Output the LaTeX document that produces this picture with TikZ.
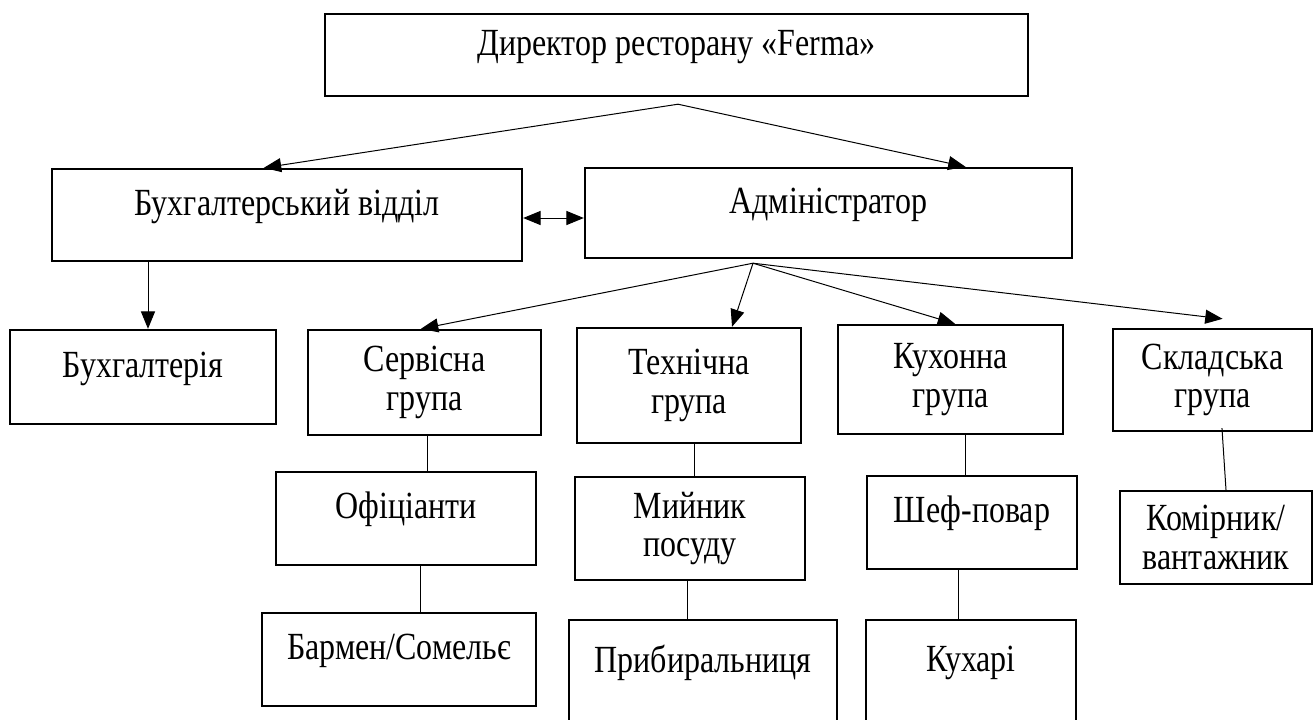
\documentclass[tikz,border=0pt]{standalone}
\usepackage{fontspec}
\setmainfont[FakeStretch=0.833]{Liberation Serif}
\usetikzlibrary{arrows.meta,calc}

\begin{document}
\begin{tikzpicture}[x=0.75pt,y=-0.75pt,
    box/.style={draw, line width=1.8pt, align=center, inner sep=0pt,
      font=\fontsize{28.8pt}{29pt}\selectfont},
    onebox/.style={box, text height=14pt, text depth=14pt},
    link/.style={line width=0.75pt},
    arr/.style={link, -{Triangle[length=13pt,width=10.5pt]}}]

  \fill[white] (0,0) rectangle (1315,719);
  \useasboundingbox (0,0) rectangle (1315,719);

  % director and second level
  \node [onebox, minimum width=527.25pt, minimum height=61.5pt](dir) at (676.5,55) {Директор ресторану «Ferma»};
  \node [onebox, minimum width=352.5pt, minimum height=69pt](bvid) at (287,215) {Бухгалтерський відділ};
  \node [onebox, minimum width=365.25pt, minimum height=67.5pt](adm) at (828.5,213) {Адміністратор};

  % groups
  \node [onebox, minimum width=199.5pt, minimum height=70.5pt](buh) at (143,377) {Бухгалтерія};
  \node [box, minimum width=174.75pt, minimum height=78.75pt](serv) at (424.5,382.5) {Сервісна\\група};
  \node [box, minimum width=168pt, minimum height=86.25pt](tech) at (689,385.5) {Технічна\\група};
  \node [box, minimum width=168.75pt, minimum height=81.75pt](kuh) at (950.5,379.5) {Кухонна\\група};
  \node [box, minimum width=149.25pt, minimum height=76.5pt](skl) at (1212.5,380) {Складська\\група};

  % staff
  \node [onebox, minimum width=195pt, minimum height=69.75pt](ofic) at (406,518.5) {Офіціанти};
  \node [onebox, minimum width=205.5pt, minimum height=69.75pt](barm) at (399,659.5) {Бармен/Сомельє};
  \node [box, minimum width=172.5pt, minimum height=77.25pt](miy) at (690,528.5) {Мийник\\посуду};
  \node [onebox, minimum width=201pt, minimum height=78pt](pryb) at (703,672) {Прибиральниця};
  \node [onebox, minimum width=157.5pt, minimum height=69.75pt](shef) at (972,522.5) {Шеф-повар};
  \node [onebox, minimum width=157.5pt, minimum height=76.5pt](kuhari) at (971,671) {Кухарі};
  \node [box, minimum width=144pt, minimum height=69.75pt](komir) at (1216,537.5) {Комірник/\\вантажник};

  % arrows from the top
  \coordinate (dirfork) at ($(dir.south)+(1.5,7)$);
  \draw [arr] (dirfork) -- ($(bvid.north west)!.451!(bvid.north east)$);
  \draw [arr] (dirfork) -- ($(adm.north west)!.78!(adm.north east)$);
  \draw [link, {Triangle[length=13pt,width=10.5pt]}-{Triangle[length=13pt,width=10.5pt]}]
    ([yshift=-2.25pt]bvid.east) -- ([yshift=-2.25pt]bvid.east -| adm.west);
  \draw [arr] ([xshift=3.75pt]buh.north |- bvid.south) -- ([xshift=3.75pt]buh.north);

  \coordinate (admfork) at ($(adm.south)+(-75.5,4)$);
  \draw [arr] (admfork) -- ($(serv.north west)!.485!(serv.north east)$);
  \draw [arr] (admfork) -- ($(tech.north west)!.69!(tech.north east)$);
  \draw [arr] (admfork) -- ($(kuh.north west)!.52!(kuh.north east)$);
  \draw [arr] (admfork) -- ($(skl.north west)!.55!(skl.north east)+(0,-9)$);

  % plain links
  \draw [link] ([xshift=1.9pt]serv.south) -- ([xshift=1.9pt]serv.south |- ofic.north);
  \draw [link] ([xshift=10.5pt]ofic.south) -- ([xshift=10.5pt]ofic.south |- barm.north);
  \draw [link] ([xshift=3.75pt]tech.south) -- ([xshift=3.75pt]tech.south |- miy.north);
  \draw [link] ([xshift=-2.25pt]miy.south) -- ([xshift=-2.25pt]miy.south |- pryb.north);
  \draw [link] ([xshift=10.9pt]kuh.south) -- ([xshift=10.9pt]kuh.south |- shef.north);
  \draw [link] ([xshift=-10.5pt]shef.south) -- ([xshift=-10.5pt]shef.south |- kuhari.north);
  \draw [link] ([xshift=7.1pt,yshift=3pt]skl.south) -- ([xshift=7.5pt]komir.north);
\end{tikzpicture}
\end{document}
